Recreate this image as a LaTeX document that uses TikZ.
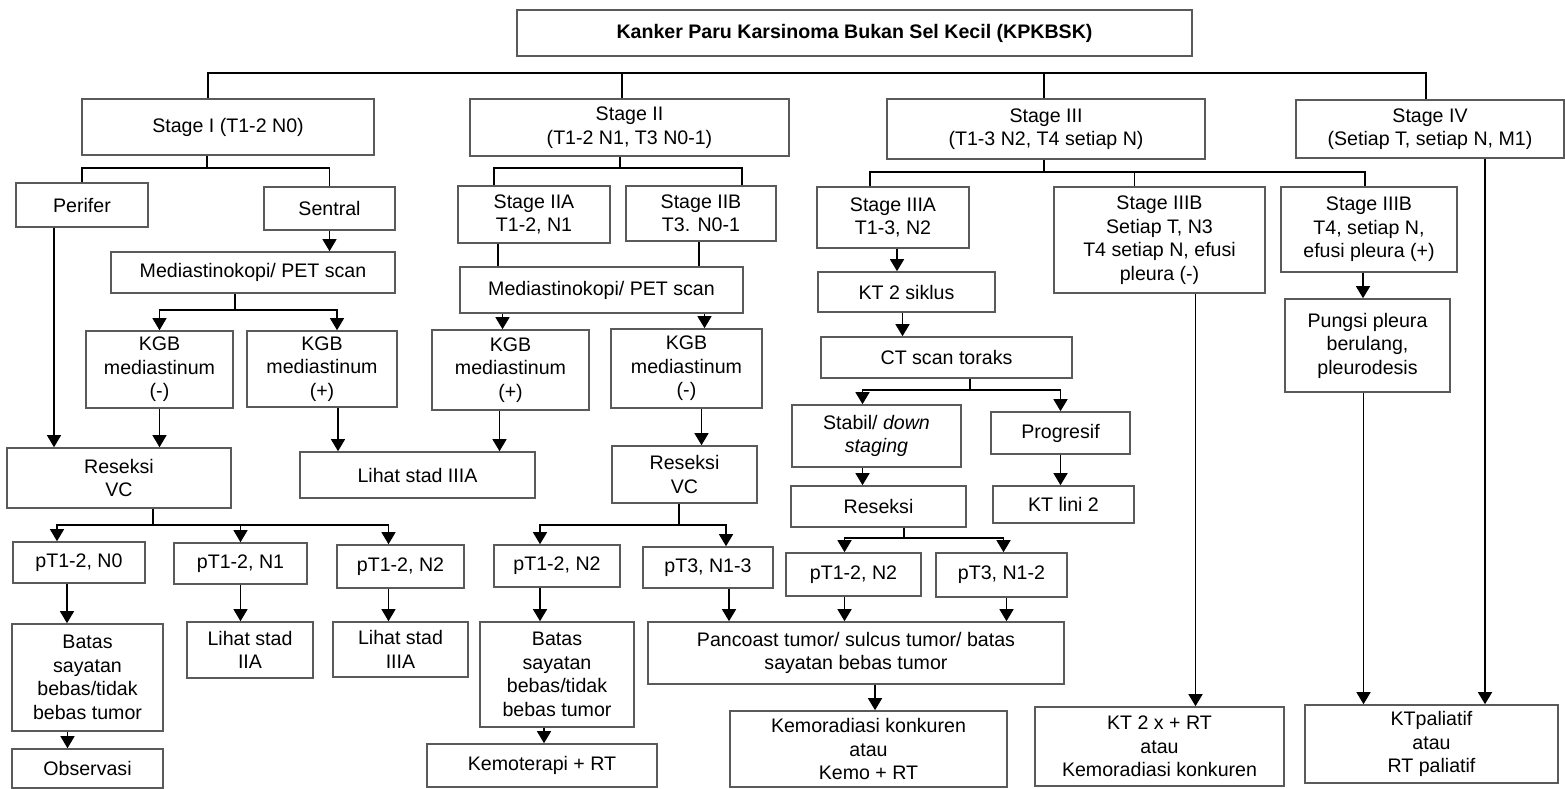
\documentclass[tikz,border=0pt]{standalone}
\usepackage{fontspec}
\setmainfont{Liberation Sans}
\usepackage{tikz}
\usetikzlibrary{arrows.meta}
\definecolor{boxgray}{RGB}{90, 90, 90}
\newcommand{\flowfont}{\fontsize{19.6}{23.5}\selectfont}

\begin{document}
\begin{tikzpicture}[x=1pt, y=-1pt,
    box/.style={draw=boxgray, line width=1.6pt, fill=white, align=center,
                inner sep=0pt, font=\flowfont},
    sz/.style 2 args={minimum width=#1, minimum height=#2},
    link/.style={line width=1.3pt},
    arr/.style={line width=1.3pt, -{Triangle[width=14pt,length=12pt]}}
]
    \useasboundingbox (0,0) rectangle (1565,789);

    % top and stages
    \node[box, sz={675}{46}] (top) at (854.5,33) {\textbf{Kanker Paru Karsinoma Bukan Sel Kecil (KPKBSK)}};
    \node[box, sz={292}{56}] (s1) at (228,127) {Stage I (T1-2 N0)};
    \node[box, sz={319}{57}] (s2) at (629.5,127.5) {Stage II\\(T1-2 N1, T3 N0-1)};
    \node[box, sz={318}{60}] (s3) at (1046,129) {Stage III\\(T1-3 N2, T4 setiap N)};
    \node[box, sz={268}{58}] (s4) at (1430,129) {Stage IV\\(Setiap T, setiap N, M1)};

    % stage I
    \node[box, sz={132}{44}] (perifer) at (82,205) {Perifer};
    \node[box, sz={131}{43}] (sentral) at (329.5,208.5) {Sentral};
    \node[box, sz={284}{41}] (med1) at (253,272.5) {Mediastinokopi/ PET scan};
    \node[box, sz={147}{77}] (kgb1n) at (159.5,369.5) {KGB\\mediastinum\\(-)};
    \node[box, sz={150}{76}] (kgb1p) at (322,369) {KGB\\mediastinum\\(+)};
    \node[box, sz={224}{60}] (res1) at (119,478) {Reseksi\\VC};
    \node[box, sz={235}{46}] (lihat1) at (417.5,475) {Lihat stad IIIA};
    \node[box, sz={132}{41}] (pta0) at (79,562.5) {pT1-2, N0};
    \node[box, sz={133}{41}] (pta1) at (240.5,563.5) {pT1-2, N1};
    \node[box, sz={127}{43}] (pta2) at (400.5,566.5) {pT1-2, N2};
    \node[box, sz={151}{107}] (batas1) at (87.5,677.5) {Batas\\sayatan\\bebas/tidak\\bebas tumor};
    \node[box, sz={151}{39}] (obs) at (87.5,768.5) {Observasi};
    \node[box, sz={126}{56}] (lihat2a) at (250,650) {Lihat stad\\IIA};
    \node[box, sz={135}{55}] (lihat2b) at (400.5,649.5) {Lihat stad\\IIIA};

    % stage II
    \node[box, sz={152}{57}] (s2a) at (534,214.5) {Stage IIA\\T1-2, N1};
    \node[box, sz={150}{55}] (s2b) at (701,213.5) {Stage IIB\\T3. N0-1};
    \node[box, sz={283}{46}] (med2) at (601.5,290) {Mediastinokopi/ PET scan};
    \node[box, sz={157}{80}] (kgb2p) at (510.5,370) {KGB\\mediastinum\\(+)};
    \node[box, sz={151}{79}] (kgb2n) at (686.5,368.5) {KGB\\mediastinum\\(-)};
    \node[box, sz={145}{57}] (res2) at (684.5,474.5) {Reseksi\\VC};
    \node[box, sz={126}{42}] (ptb) at (557,566) {pT1-2, N2};
    \node[box, sz={130}{41}] (pt3a) at (708,567.5) {pT3, N1-3};
    \node[box, sz={154}{105}] (batas2) at (557,674.5) {Batas\\sayatan\\bebas/tidak\\bebas tumor};
    \node[box, sz={230}{43}] (kemo) at (542,765.5) {Kemoterapi + RT};

    % stage III
    \node[box, sz={152}{61}] (s3a) at (893,217.5) {Stage IIIA\\T1-3, N2};
    \node[box, sz={211}{106}] (s3b) at (1159.5,240) {Stage IIIB\\Setiap T, N3\\T4 setiap N, efusi\\pleura (-)};
    \node[box, sz={176}{85}] (s3c) at (1369,229.5) {Stage IIIB\\T4, setiap N,\\efusi pleura (+)};
    \node[box, sz={177}{40}] (kt2) at (906.5,292) {KT 2 siklus};
    \node[box, sz={251}{41}] (ct) at (946.5,357.5) {CT scan toraks};
    \node[box, sz={169}{62}] (stabil) at (876.5,436) {Stabil/ \textit{down}\\\textit{staging}};
    \node[box, sz={139}{42}] (progresif) at (1060.5,433) {Progresif};
    \node[box, sz={175}{41}] (res3) at (878.5,506.5) {Reseksi};
    \node[box, sz={141}{37}] (ktl2) at (1063.5,504.5) {KT lini 2};
    \node[box, sz={135}{43}] (ptc) at (853.5,574.5) {pT1-2, N2};
    \node[box, sz={131}{44}] (pt3b) at (1001.5,575) {pT3, N1-2};
    \node[box, sz={416}{62}] (pancoast) at (856,653) {Pancoast tumor/ sulcus tumor/ batas\\sayatan bebas tumor};
    \node[box, sz={277}{76}] (kemorad) at (868.5,749) {Kemoradiasi konkuren\\atau\\Kemo + RT};
    \node[box, sz={249}{79}] (kt2x) at (1159.5,746.5) {KT 2 x + RT\\atau\\Kemoradiasi konkuren};

    % stage IIIB / IV
    \node[box, sz={165}{93}] (pungsi) at (1367.5,345.5) {Pungsi pleura\\berulang,\\pleurodesis};
    \node[box, sz={253}{78}] (ktpal) at (1431.5,744) {KTpaliatif\\atau\\RT paliatif};

    % junctions
    \coordinate (tb) at (622,73);
    \coordinate (j1) at (207,168);
    \coordinate (j2) at (620,168);
    \coordinate (j3) at (1044,172);
    \coordinate (j4) at (235,310);
    \coordinate (j5) at (970,390);
    \coordinate (j6) at (153,525);
    \coordinate (j7) at (679,525);
    \coordinate (j8) at (904,538);

    % buses
    \draw[link] ([xshift=-20]s1.north) |- (tb) -| ([xshift=-4]s4.north);
    \draw[link] (tb) -- (tb |- s2.north);
    \draw[link] ([xshift=-2]s3.north) -- ([xshift=-2]s3.north |- tb);
    \draw[link] (s1.south -| j1) -- (j1);
    \draw[link] (perifer.north) |- (j1) -| (sentral.north);
    \draw[link] (s2.south -| j2) -- (j2);
    \draw[link] ([xshift=-40]s2a.north) |- (j2) -| ([xshift=41]s2b.north);
    \draw[link] (s3.south -| j3) -- (j3);
    \draw[link] ([xshift=-23]s3a.north) |- (j3) -| ([xshift=-4]s3c.north);
    \draw[link] ([xshift=-25]s3b.north) -- ([xshift=-25]s3b.north |- j3);
    \draw[link] (med1.south -| j4) -- (j4);
    \draw[arr] (j4) -| (kgb1n.north);
    \draw[arr] (j4) -| ([xshift=15]kgb1p.north);
    \draw[link] (ct.south -| j5) -- (j5);
    \draw[arr] (j5) -| ([xshift=-14]stabil.north);
    \draw[arr] (j5) -| (progresif.north);
    \draw[link] (res1.south -| j6) -- (j6);
    \draw[arr] (j6) -| ([xshift=-22]pta0.north);
    \draw[arr] (j6) -| (pta1.north);
    \draw[arr] (j6) -| ([xshift=-12]pta2.north);
    \draw[link] (res2.south -| j7) -- (j7);
    \draw[arr] (j7) -| ([xshift=-17]ptb.north);
    \draw[arr] (j7) -| ([xshift=18]pt3a.north);
    \draw[link] (res3.south -| j8) -- (j8);
    \draw[arr] (j8) -| ([xshift=-9]ptc.north);
    \draw[arr] (j8) -| ([xshift=2]pt3b.north);

    % straight links
    \draw[arr] (sentral.south) -- (sentral.south |- med1.north);
    \draw[arr] ([xshift=-28]perifer.south) -- ([xshift=-28]perifer.south |- res1.north);
    \draw[arr] (kgb1n.south) -- (kgb1n.south |- res1.north);
    \draw[arr] ([xshift=16]kgb1p.south) -- ([xshift=16]kgb1p.south |- lihat1.north);
    \draw[link] ([xshift=-36]s2a.south) -- ([xshift=-36]s2a.south |- med2.north);
    \draw[link] ([xshift=-2]s2b.south) -- ([xshift=-2]s2b.south |- med2.north);
    \draw[arr] ([xshift=-8]kgb2p.north |- med2.south) -- ([xshift=-8]kgb2p.north);
    \draw[arr] ([xshift=18]kgb2n.north |- med2.south) -- ([xshift=18]kgb2n.north);
    \draw[arr] ([xshift=-11]kgb2p.south) -- ([xshift=-11]kgb2p.south |- lihat1.north);
    \draw[arr] ([xshift=15]kgb2n.south) -- ([xshift=15]kgb2n.south |- res2.north);
    \draw[arr] ([xshift=4]s3a.south) -- ([xshift=4]s3a.south |- kt2.north);
    \draw[arr] ([xshift=-4]kt2.south) -- ([xshift=-4]kt2.south |- ct.north);
    \draw[arr] ([xshift=-14]stabil.south) -- ([xshift=-14]stabil.south |- res3.north);
    \draw[arr] (progresif.south) -- (progresif.south |- ktl2.north);
    \draw[arr] ([xshift=36]s3b.south) -- ([xshift=36]s3b.south |- kt2x.north);
    \draw[arr] ([xshift=-6]s3c.south) -- ([xshift=-6]s3c.south |- pungsi.north);
    \draw[arr] ([xshift=-4]pungsi.south) -- ([xshift=-4]pungsi.south |- ktpal.north);
    \draw[arr] ([xshift=55]s4.south) -- ([xshift=55]s4.south |- ktpal.north);
    \draw[arr] ([xshift=-12]pta0.south) -- ([xshift=-12]pta0.south |- batas1.north);
    \draw[arr] ([xshift=-20]batas1.south) -- ([xshift=-20]batas1.south |- obs.north);
    \draw[arr] (pta1.south) -- (pta1.south |- lihat2a.north);
    \draw[arr] ([xshift=-12]pta2.south) -- ([xshift=-12]pta2.south |- lihat2b.north);
    \draw[arr] ([xshift=-17]ptb.south) -- ([xshift=-17]ptb.south |- batas2.north);
    \draw[arr] ([xshift=-13]batas2.south) -- ([xshift=-13]batas2.south |- kemo.north);
    \draw[arr] ([xshift=21]pt3a.south) -- ([xshift=21]pt3a.south |- pancoast.north);
    \draw[arr] ([xshift=-9]ptc.south) -- ([xshift=-9]ptc.south |- pancoast.north);
    \draw[arr] ([xshift=5]pt3b.south) -- ([xshift=5]pt3b.south |- pancoast.north);
    \draw[arr] ([xshift=19]pancoast.south) -- ([xshift=19]pancoast.south |- kemorad.north);
\end{tikzpicture}
\end{document}
